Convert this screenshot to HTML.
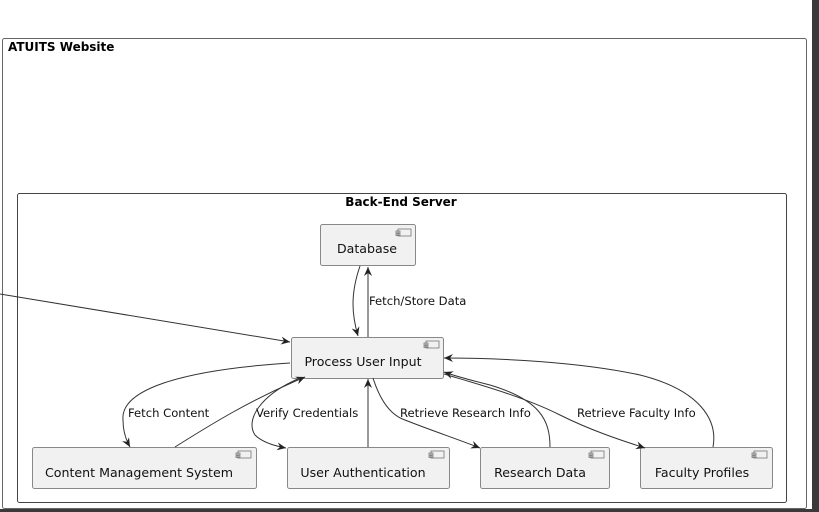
<!DOCTYPE html>
<html><head><style>
body{margin:0;width:819px;height:512px;background:#fff;overflow:hidden;position:relative;font-family:"DejaVu Sans","Liberation Sans",sans-serif}
</style></head><body>
<svg width="819" height="512" style="position:absolute;left:0;top:0" font-family="DejaVu Sans, Liberation Sans, sans-serif">
<defs><marker id="a" markerWidth="10" markerHeight="10" refX="9" refY="5" orient="auto" markerUnits="userSpaceOnUse"><path d="M0,1 L9,5 L0,9 L3,5 Z" fill="#222"/></marker></defs>
<rect x="812" y="0" width="7" height="512" fill="#3a3a3a"/>
<rect x="0" y="509" width="812" height="3" fill="#3a3a3a"/>
<rect x="2.5" y="38.5" width="804" height="470" rx="2" fill="#fff" stroke="#666"/>
<text x="8" y="51" font-size="12" font-weight="bold">ATUITS Website</text>
<rect x="17.5" y="193.5" width="769" height="309" rx="2" fill="#fff" stroke="#444"/>
<text x="401" y="206" font-size="12" font-weight="bold" text-anchor="middle">Back-End Server</text>
<g fill="#f1f1f1" stroke="#888">
<rect x="320.5" y="224.5" width="95" height="41" rx="2"/>
<rect x="291.5" y="337.5" width="152" height="41" rx="2"/>
<rect x="32.5" y="447.5" width="224" height="41" rx="2"/>
<rect x="287.5" y="447.5" width="162" height="41" rx="2"/>
<rect x="480.5" y="447.5" width="129" height="41" rx="2"/>
<rect x="640.5" y="447.5" width="132" height="41" rx="2"/>
</g>
<g fill="none" stroke="#777" stroke-width="0.8">
<rect x="398" y="229" width="13" height="7"/><rect x="396" y="231" width="4" height="2"/><rect x="396" y="234" width="4" height="1.5"/>
<rect x="426" y="341" width="13" height="7"/><rect x="424" y="343" width="4" height="2"/><rect x="424" y="346" width="4" height="1.5"/>
<rect x="238" y="451" width="13" height="7"/><rect x="236" y="453" width="4" height="2"/><rect x="236" y="456" width="4" height="1.5"/>
<rect x="431" y="451" width="13" height="7"/><rect x="429" y="453" width="4" height="2"/><rect x="429" y="456" width="4" height="1.5"/>
<rect x="591" y="451" width="13" height="7"/><rect x="589" y="453" width="4" height="2"/><rect x="589" y="456" width="4" height="1.5"/>
<rect x="754" y="451" width="13" height="7"/><rect x="752" y="453" width="4" height="2"/><rect x="752" y="456" width="4" height="1.5"/>
</g>
<g font-size="12.6" fill="#111" text-anchor="middle">
<text x="367" y="253">Database</text>
<text x="363" y="366">Process User Input</text>
<text x="139" y="477">Content Management System</text>
<text x="363" y="477">User Authentication</text>
<text x="540" y="477">Research Data</text>
<text x="702" y="477">Faculty Profiles</text>
</g>
<g fill="none" stroke="#333" stroke-width="1" marker-end="url(#a)">
<path d="M0,294 L290,342"/>
<path d="M360,266 C350,295 352,315 358,336"/>
<path d="M368,337 L368,267"/>
<path d="M290,363 C180,370 120,390 123,420 C123,430 126,440 130,447"/>
<path d="M175,447 C210,425 250,400 305,377"/>
<path d="M300,378 C260,395 245,420 255,435 C262,442 275,446 286,448"/>
<path d="M368,447 L368,379"/>
<path d="M373,378 C380,400 390,415 405,420 C430,430 460,440 480,448"/>
<path d="M550,447 C550,420 540,400 490,385 C470,380 455,376 444,372"/>
<path d="M444,374 C470,382 520,395 560,415 C590,430 620,440 645,448"/>
<path d="M713,447 C718,420 700,390 640,375 C580,362 500,358 444,358"/>
</g>
<g font-size="11.6" fill="#111">
<text x="369" y="305">Fetch/Store Data</text>
<text x="128" y="417">Fetch Content</text>
<text x="256" y="417">Verify Credentials</text>
<text x="400" y="417">Retrieve Research Info</text>
<text x="577" y="417">Retrieve Faculty Info</text>
</g>
</svg>
</body></html>
